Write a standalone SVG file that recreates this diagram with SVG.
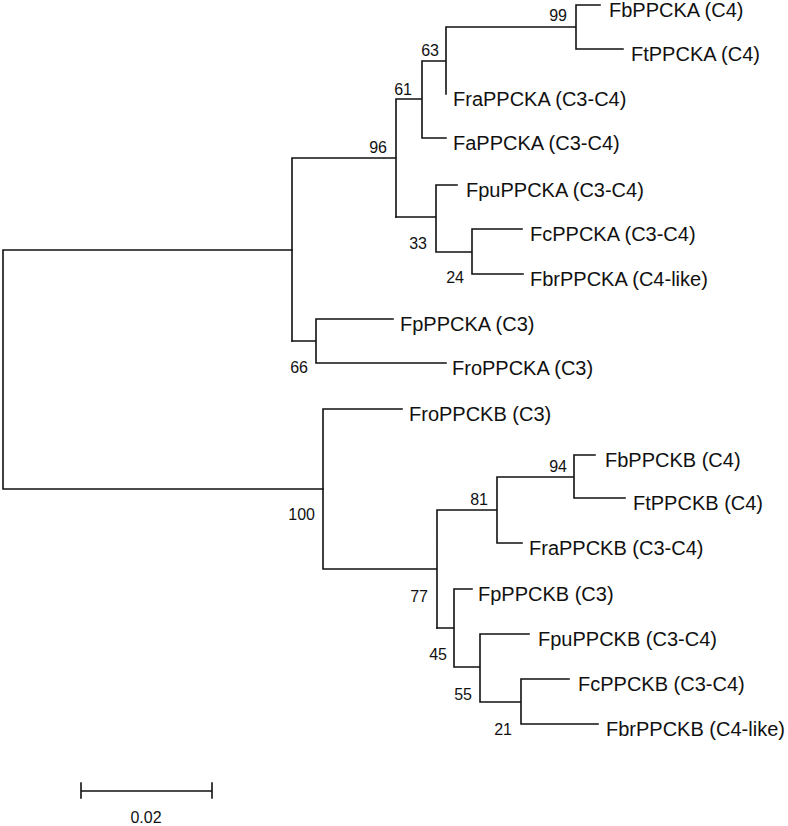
<svg xmlns="http://www.w3.org/2000/svg" width="788" height="826" viewBox="0 0 788 826">
<style>
.br{fill:none;stroke:#111;stroke-width:1.6;stroke-linecap:square}
.lb{font-family:"Liberation Sans",Arial,sans-serif;font-size:20px;fill:#111}
.bs{font-family:"Liberation Sans",Arial,sans-serif;font-size:16px;fill:#111;text-anchor:end}
.sc{font-family:"Liberation Sans",Arial,sans-serif;font-size:16px;fill:#111;text-anchor:middle}
</style>
<rect width="788" height="826" fill="#fff"/>
<g id="connectors" class="br">
<path d="M3,250V489M3,250H292M3,489H323"/>
<path d="M292,158V341M292,158H396M396,99V217M396,99H422M422,61V138M422,61H446M446,27V94M446,27H576M576,5V49M576,5H600M576,49H623M422,138H446"/>
<path d="M396,217H436M436,185V252M436,185H457M436,252H472M472,229V274M472,229H522M472,274H523"/>
<path d="M292,341H316M316,319V363M316,319H393M316,363H446"/>
<path d="M323,409V569M323,409H402M323,569H437M437,510V628M437,510H497M497,477V543M497,477H574M574,455V498M574,455H595M574,498H625M497,543H522"/>
<path d="M437,628H454M454,589V667M454,589H472M454,667H480M480,634V702M480,634H529M480,702H521M521,679V724M521,679H569M521,724H598"/>
</g>
<g id="leaf-FbPPCKA"><text class="lb" x="609" y="17">FbPPCKA (C4)</text></g>
<g id="leaf-FtPPCKA"><text class="lb" x="631" y="61">FtPPCKA (C4)</text></g>
<g id="leaf-FraPPCKA"><text class="lb" x="453" y="106">FraPPCKA (C3-C4)</text></g>
<g id="leaf-FaPPCKA"><text class="lb" x="453" y="150">FaPPCKA (C3-C4)</text></g>
<g id="leaf-FpuPPCKA"><text class="lb" x="466" y="197">FpuPPCKA (C3-C4)</text></g>
<g id="leaf-FcPPCKA"><text class="lb" x="530" y="241">FcPPCKA (C3-C4)</text></g>
<g id="leaf-FbrPPCKA"><text class="lb" x="530" y="286">FbrPPCKA (C4-like)</text></g>
<g id="leaf-FpPPCKA"><text class="lb" x="400" y="331">FpPPCKA (C3)</text></g>
<g id="leaf-FroPPCKA"><text class="lb" x="452" y="375">FroPPCKA (C3)</text></g>
<g id="leaf-FroPPCKB"><text class="lb" x="409" y="421">FroPPCKB (C3)</text></g>
<g id="leaf-FbPPCKB"><text class="lb" x="605" y="467">FbPPCKB (C4)</text></g>
<g id="leaf-FtPPCKB"><text class="lb" x="633" y="510">FtPPCKB (C4)</text></g>
<g id="leaf-FraPPCKB"><text class="lb" x="529" y="555">FraPPCKB (C3-C4)</text></g>
<g id="leaf-FpPPCKB"><text class="lb" x="478" y="601">FpPPCKB (C3)</text></g>
<g id="leaf-FpuPPCKB"><text class="lb" x="538" y="646">FpuPPCKB (C3-C4)</text></g>
<g id="leaf-FcPPCKB"><text class="lb" x="578" y="691">FcPPCKB (C3-C4)</text></g>
<g id="leaf-FbrPPCKB"><text class="lb" x="606" y="736">FbrPPCKB (C4-like)</text></g>
<g id="node-99"><text class="bs" x="567" y="21">99</text></g>
<g id="node-63"><text class="bs" x="439" y="56">63</text></g>
<g id="node-61"><text class="bs" x="412" y="95">61</text></g>
<g id="node-96"><text class="bs" x="387" y="153">96</text></g>
<g id="node-33"><text class="bs" x="427" y="249">33</text></g>
<g id="node-24"><text class="bs" x="464" y="283">24</text></g>
<g id="node-66"><text class="bs" x="308" y="373">66</text></g>
<g id="node-100"><text class="bs" x="315" y="520">100</text></g>
<g id="node-94"><text class="bs" x="567" y="472">94</text></g>
<g id="node-81"><text class="bs" x="488" y="505">81</text></g>
<g id="node-77"><text class="bs" x="428" y="602">77</text></g>
<g id="node-45"><text class="bs" x="447" y="660">45</text></g>
<g id="node-55"><text class="bs" x="472" y="700">55</text></g>
<g id="node-21"><text class="bs" x="512" y="735">21</text></g>
<g id="scale-bar">
<path class="br" d="M81,791H212M81,783V798M212,783V798"/>
<text class="sc" x="146" y="823">0.02</text>
</g>
</svg>
